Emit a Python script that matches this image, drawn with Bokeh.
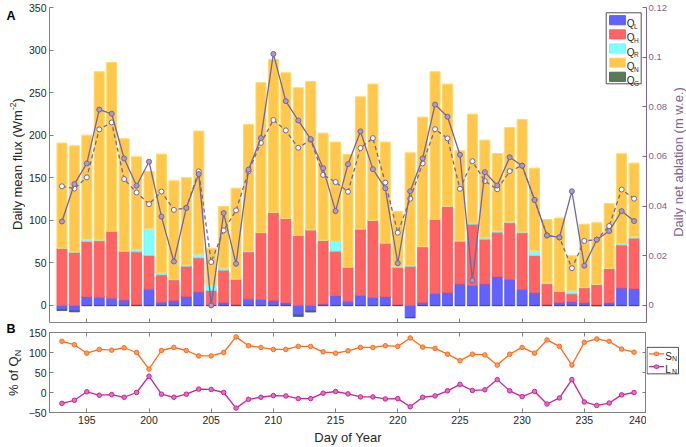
import numpy as np
from bokeh.plotting import figure
from bokeh.models import (Range1d, LinearAxis, FixedTicker, CustomJSTickFormatter,
                          BoxAnnotation, Label, Arrow, ColumnDataSource)
from bokeh.layouts import column, row
from bokeh.embed import file_html
from bokeh.resources import INLINE

# ---------------- data ----------------
days = list(range(193, 240))
QL = [-5.0, -6.5, 10.2, 9.4, 8.6, 6.3, 1.0, 19.2, 3.9, 5.9, 10.6, 15.7, 0.3, 3.5, 1.0, 7.4,
      7.0, 5.9, 3.1, -11.4, -6.7, 1.6, 11.4, 5.1, 11.7, 9.4, 10.2, 1.0, -14.1, 3.5, 14.1,
      15.3, 25.1, 23.5, 25.1, 33.7, 30.5, 18.8, 14.9, 1.0, 3.5, 4.3, 3.1, 0.5, 3.1, 20.4, 19.6]
QH = [67.3, 62.6, 65.0, 66.6, 78.4, 57.5, 62.0, 39.5, 32.1, 24.2, 35.6, 40.3, 17.3, 38.0,
      29.9, 55.6, 78.4, 103.3, 99.1, 82.2, 88.9, 74.8, 52.4, 39.9, 78.0, 90.4, 63.0, 43.6,
      46.2, 65.4, 86.9, 101.0, 50.5, 72.0, 52.8, 52.4, 66.6, 66.6, 43.8, 24.5, 12.9, 9.4,
      17.7, 24.2, 40.4, 50.5, 59.5]
QR = [0.0, 0.3, 2.3, 0.8, 0.5, 0.3, 2.8, 31.7, 2.4, 0.5, 1.2, 4.3, 5.9, 2.4, 0.3, 0.4, 0.3,
      0.3, 0.2, 0.0, 0.0, 0.3, 11.8, 0.3, 0.3, 0.3, 0.3, 1.6, 0.5, 0.3, 0.3, 0.3, 0.3, 1.5,
      1.6, 2.0, 1.0, 0.8, 5.9, 1.1, 0.5, 3.5, 0.3, 0.2, 0.2, 1.5, 1.9]
QN = [123.4, 124.6, 122.5, 197.7, 197.9, 131.7, 108.8, 67.0, 139.4, 115.8, 102.6, 144.5,
      43.8, 72.4, 106.6, 149.2, 175.9, 179.5, 170.9, 173.5, 174.2, 125.7, 116.3, 132.1,
      155.1, 159.9, 118.4, 64.2, 132.6, 152.0, 173.2, 143.4, 105.8, 127.7, 114.7, 90.4,
      111.0, 132.3, 96.7, 74.4, 85.7, 41.1, 74.4, 72.2, 76.1, 105.8, 86.2]
QG = [-1.0, -1.0, -0.3, -0.3, -0.3, -0.3, -0.3, -0.3, -0.3, -0.3, -0.3, -0.3, -0.3, -0.3,
      -0.3, -0.3, -0.3, -0.3, -0.3, -1.5, -1.0, -0.3, -0.3, -0.3, -0.3, -0.3, -0.3, -0.3,
      -0.5, -0.3, -0.3, -0.3, -0.3, -0.3, -0.3, -0.3, -0.3, -0.3, -0.3, -0.3, -0.3, -0.3,
      -0.3, -0.6, -0.3, -0.3, -0.3]
abl_obs = [0.0338, 0.0489, 0.0572, 0.0789, 0.0772, 0.0592, 0.0482, 0.0579, 0.0358, 0.0177,
           0.0393, 0.0529, 0.0000, 0.0372, 0.0168, 0.0547, 0.0674, 0.1013, 0.0823, 0.0745,
           0.0670, 0.0553, 0.0380, 0.0569, 0.0701, 0.0549, 0.0472, 0.0170, 0.0460, 0.0592,
           0.0809, 0.0760, 0.0607, 0.0101, 0.0537, 0.0483, 0.0597, 0.0563, 0.0425, 0.0282,
           0.0274, 0.0460, 0.0160, 0.0265, 0.0300, 0.0380, 0.0340]
abl_mod = [0.0480, 0.0471, 0.0516, 0.0709, 0.0737, 0.0509, 0.0455, 0.0408, 0.0459, 0.0385,
           0.0393, 0.0540, 0.0175, 0.0302, 0.0383, 0.0540, 0.0655, 0.0747, 0.0705, 0.0635,
           0.0667, 0.0526, 0.0497, 0.0458, 0.0634, 0.0674, 0.0495, 0.0293, 0.0430, 0.0572,
           0.0710, 0.0673, 0.0470, 0.0581, 0.0501, 0.0468, 0.0541, 0.0563, 0.0425, 0.0282,
           0.0274, 0.0150, 0.0260, 0.0265, 0.0320, 0.0467, 0.0430]
SN = [128, 119.5, 98.3, 107.6, 105.9, 111.9, 100, 58.5, 105, 112.7, 105, 91.5, 91.5, 100,
      139, 117, 112.7, 107.6, 107.6, 115.3, 115.3, 101.7, 98.3, 104.2, 112.7, 112.7, 117,
      115.3, 136.4, 113.6, 110.2, 95.8, 79.7, 95.8, 94, 68.6, 95.8, 112.7, 98.3, 131.4,
      115.3, 68.6, 125.4, 133.9, 128, 108.5, 100.8]
LN = [-27.1, -19.5, 1.7, -6.8, -5.1, -11.9, 0, 40.7, -4.2, -11.9, -4.2, 8.5, 7.6, 0, -39,
      -17, -11.9, -7.6, -8.5, -15.3, -15.3, -1.7, 2.5, -3.4, -11, -11, -16.1, -15.3, -35.6,
      -11.9, -8.5, 4.2, 20.3, 5.1, 6.8, 32.2, 4.2, -10.2, 2.5, -28.8, -13.6, 32.2, -23.7,
      -32.2, -26.3, -5.9, 0]
flux_ticks = [0, 50, 100, 150, 200, 250, 300, 350]
abl_ticks = [0, 0.02, 0.04, 0.06, 0.08, 0.1, 0.12]
pct_ticks = [-50, 0, 50, 100, 150]
day_ticks = [195, 200, 205, 210, 215, 220, 225, 230, 235, 240]
legend_top = ["L", "H", "R", "N", "G"]
legend_bot = ["S", "L"]

# ---------------- styles ----------------
FONT = "Liberation Sans"
TXT = "#262626"
GRAY = "#808080"
PURPLE = "#7364a5"
RAXIS = "#80648c"
C_L, E_L = "#6262ff", "#4f4fff"
C_H, E_H = "#ff6363", "#ff5555"
C_R, E_R = "#80ffff", "#66f2f2"
C_N, E_N = "#ffc84c", "#ffd966"
C_G, E_G = "#577a57", "#3f5f3f"
C_S, F_S = "#ff6b1a", "#ff9a5c"
C_LN, F_LN = "#cc2299", "#e070c2"

LSW = 25                      # left text strip width
FL, FW = 21, 597              # frame left border / frame width
TOP_T, TOP_H, TOP_B, TOP_R = 7, 315, 5, 24
BOT_T, BOT_H, BOT_B = 5, 80, 35
RSW, LGW = 19, 40
X0, X1 = 192, 240
YT0, YT1 = -20, 350
YB0, YB1 = -50, 150
ABL1 = 0.12
ABL0 = YT0 * ABL1 / YT1
TOP_FIG_H = TOP_T + TOP_H + TOP_B
BOT_FIG_H = BOT_T + BOT_H + BOT_B
PAGE_FL = LSW + FL             # page x of frame left
RS_X = LSW + FL + FW + TOP_R   # page x of right strip
LG_X = LSW + FL + FW           # page x of bottom legend strip


def tx(px):
    return X0 + (px - PAGE_FL) * (X1 - X0) / FW


def ty(py):
    return YT1 - (py - TOP_T) * (YT1 - YT0) / TOP_H


def style_axis(ax, ticks, labels=True, color=TXT, line=GRAY, size="10.5px", standoff=3):
    ax.ticker = FixedTicker(ticks=ticks)
    ax.major_tick_in = 4
    ax.major_tick_out = 0
    ax.minor_tick_line_color = None
    ax.axis_line_color = line
    ax.major_tick_line_color = line
    ax.major_label_text_font = FONT
    if labels:
        ax.major_label_text_color = color
        ax.major_label_text_font_size = size
        ax.major_label_standoff = standoff
    else:
        ax.major_label_text_color = None
        ax.major_label_text_font_size = "0px"
        ax.major_label_standoff = 0


def strip(w, h):
    # bottom-up pixel coordinates: (0, 0) is the lower left corner of the strip
    f = figure(width=w, height=h, x_range=Range1d(0, w), y_range=Range1d(0, h),
               output_backend="svg", toolbar_location=None, title=None,
               min_border_left=0, min_border_right=0, min_border_top=0,
               min_border_bottom=0, x_axis_type=None, y_axis_type=None,
               outline_line_color=None)
    f.grid.visible = False
    return f


def vlabel(fig, x, y, text, size, color=TXT):
    # vertical text reading bottom-to-top, starting at y, centred on x
    fig.add_layout(Label(x=x, y=y, text=text, angle=np.pi / 2, text_font=FONT,
                         text_font_size=size, text_color=color,
                         text_align="left", text_baseline="middle"))


# ---------------- top panel ----------------
ql = np.array(QL)
qh = np.array(QH)
qr = np.array(QR)
qn = np.array(QN)
qg = np.array(QG)
pos0 = np.maximum(ql, 0)
h_top = pos0 + qh
r_top = h_top + qr
n_top = r_top + qn
neg0 = np.minimum(ql, 0)
src = ColumnDataSource(dict(day=days, l_top=ql, h_bot=pos0, h_top=h_top, r_top=r_top,
                            n_top=n_top, g_bot=neg0, g_top=neg0 + qg,
                            zero=np.zeros(len(days)), obs=abl_obs, mod=abl_mod))

top = figure(frame_width=FW, frame_height=TOP_H, x_range=Range1d(X0, X1),
             y_range=Range1d(YT0, YT1), output_backend="svg", toolbar_location=None,
             title=None, min_border_left=FL, min_border_right=TOP_R,
             min_border_top=TOP_T, min_border_bottom=TOP_B, outline_line_color=None)
top.grid.visible = False
top.extra_y_ranges = {"abl": Range1d(ABL0, ABL1)}
style_axis(top.xaxis[0], day_ticks, labels=False)
style_axis(top.yaxis[0], flux_ticks)

rax = LinearAxis(y_range_name="abl")
style_axis(rax, abl_ticks, color=RAXIS, line=RAXIS, size="9.5px", standoff=2)
rax.formatter = CustomJSTickFormatter(code="return String(Math.round(tick*100)/100);")
top.add_layout(rax, "right")

W = 0.8
top.vbar(x="day", width=W, bottom="zero", top="l_top", source=src,
         fill_color=C_L, line_color=E_L, line_width=0.8)
top.vbar(x="day", width=W, bottom="h_bot", top="h_top", source=src,
         fill_color=C_H, line_color=E_H, line_width=0.8)
top.vbar(x="day", width=W, bottom="h_top", top="r_top", source=src,
         fill_color=C_R, line_color=E_R, line_width=0.8)
top.vbar(x="day", width=W, bottom="r_top", top="n_top", source=src,
         fill_color=C_N, line_color=E_N, line_width=1)
top.vbar(x="day", width=W, bottom="g_bot", top="g_top", source=src,
         fill_color=C_G, line_color=E_G, line_width=0.8)

top.line("day", "mod", source=src, y_range_name="abl", line_color=PURPLE,
         line_width=1.3, line_dash="4 3")
top.scatter("day", "mod", source=src, y_range_name="abl", marker="circle", size=5,
            line_color=PURPLE, fill_color="white", line_width=1)
top.line("day", "obs", source=src, y_range_name="abl", line_color=PURPLE, line_width=1.3)
top.scatter("day", "obs", source=src, y_range_name="abl", marker="circle", size=5,
            line_color=PURPLE, fill_color="#a89cca", line_width=1)

# legend (inside the top frame)
top.add_layout(BoxAnnotation(left=tx(602.7), right=tx(637.7), top=ty(12.3), bottom=ty(83.3),
                             fill_color="white", fill_alpha=1, line_color=TXT,
                             line_width=0.8, line_alpha=1))
for i, (sub, fc, ec) in enumerate(zip(legend_top, [C_L, C_H, C_R, C_N, C_G],
                                      [E_L, E_H, E_R, E_N, E_G])):
    cy = 19.7 + i * 14.15
    top.add_layout(BoxAnnotation(left=tx(606), right=tx(622), top=ty(cy - 4.6),
                                 bottom=ty(cy + 4.6), fill_color=fc, fill_alpha=1,
                                 line_color=ec, line_width=0.8, line_alpha=1))
    top.add_layout(Label(x=tx(623.3), y=ty(cy + 3.6), text="Q", text_font=FONT,
                         text_font_size="10px", text_color=TXT,
                         text_baseline="alphabetic"))
    top.add_layout(Label(x=tx(630.6), y=ty(cy + 6.4), text=sub, text_font=FONT,
                         text_font_size="6.5px", text_color=TXT,
                         text_baseline="alphabetic"))

# ---------------- bottom panel ----------------
bsrc = ColumnDataSource(dict(day=days, sn=SN, ln=LN))
bot = figure(frame_width=FW, frame_height=BOT_H, x_range=Range1d(X0, X1),
             y_range=Range1d(YB0, YB1), output_backend="svg", toolbar_location=None,
             title=None, min_border_left=FL, min_border_right=0, min_border_top=BOT_T,
             min_border_bottom=BOT_B, outline_line_color=GRAY)
bot.grid.visible = False
style_axis(bot.xaxis[0], day_ticks)
bot.xaxis[0].axis_label = "Day of Year"
bot.xaxis[0].axis_label_standoff = 3
bot.xaxis[0].axis_label_text_font = FONT
bot.xaxis[0].axis_label_text_font_size = "13px"
bot.xaxis[0].axis_label_text_font_style = "normal"
bot.xaxis[0].axis_label_text_color = TXT
style_axis(bot.yaxis[0], pct_ticks)
ax_top = LinearAxis()
style_axis(ax_top, day_ticks, labels=False)
bot.add_layout(ax_top, "above")
ax_right = LinearAxis()
style_axis(ax_right, pct_ticks, labels=False)
bot.add_layout(ax_right, "right")

bot.line("day", "sn", source=bsrc, line_color=C_S, line_width=1.3)
bot.scatter("day", "sn", source=bsrc, marker="circle", size=4.5, line_color=C_S,
            fill_color=F_S, line_width=1)
bot.line("day", "ln", source=bsrc, line_color=C_LN, line_width=1.3)
bot.scatter("day", "ln", source=bsrc, marker="circle", size=4.5, line_color=C_LN,
            fill_color=F_LN, line_width=1)

# ---------------- left text strip (panel letters, y labels) ----------------
H_ALL = TOP_FIG_H + BOT_FIG_H


def sy(page_y, h=H_ALL, y0=0):
    return h - (page_y - y0)


ls = strip(LSW, H_ALL)
ls.add_layout(Label(x=6, y=sy(8.3), text="A", text_font=FONT, text_font_size="12.5px",
                    text_font_style="bold", text_color="black", text_baseline="top"))
ls.add_layout(Label(x=6, y=sy(328.3), text="B", text_font=FONT, text_font_size="12.5px",
                    text_font_style="bold", text_color="black", text_baseline="alphabetic"))
vlabel(ls, 17.3, sy(229.5), "Daily mean flux (Wm", "13px")
vlabel(ls, 12.8, sy(109.6), "-2", "8.5px")
vlabel(ls, 17.3, sy(102.0), ")", "13px")
vlabel(ls, 13.3, sy(395.5), "% of Q", "13px")
vlabel(ls, 17.8, sy(355.8), "N", "9px")

# ---------------- right text strip (right axis label) ----------------
rs = strip(RSW, TOP_FIG_H)
vlabel(rs, 675.4 - RS_X, sy(238, TOP_FIG_H), "Daily net ablation (m w.e.)", "13px",
       color=RAXIS)

# ---------------- bottom legend ----------------
lg = strip(LGW, BOT_FIG_H)
LY = TOP_FIG_H


def ly(page_y):
    return sy(page_y, BOT_FIG_H, LY)


lg.add_layout(BoxAnnotation(left=0.5, right=675 - LG_X, top=ly(349.3), bottom=ly(389),
                            fill_color="white", fill_alpha=1, line_color=TXT,
                            line_width=0.8, line_alpha=1))
for i, (lab, lc, fc) in enumerate(zip(legend_bot, [C_S, C_LN], [F_S, F_LN])):
    cy = 359 + i * 19.3
    lg.add_layout(Arrow(end=None, x_start=2.5, x_end=17.5, y_start=ly(cy), y_end=ly(cy),
                        line_color=lc, line_width=1.3))
    lg.add_layout(BoxAnnotation(left=7.5, right=12.5, top=ly(cy - 2.5), bottom=ly(cy + 2.5),
                                border_radius=3, fill_color=fc, fill_alpha=1,
                                line_color=lc, line_width=1, line_alpha=1))
    lg.add_layout(Label(x=18.7, y=ly(cy + 3.6), text=lab, text_font=FONT,
                        text_font_size="10px", text_color=TXT, text_baseline="alphabetic"))
    lg.add_layout(Label(x=25.4, y=ly(cy + 6.5), text="N", text_font=FONT,
                        text_font_size="7px", text_color=TXT, text_baseline="alphabetic"))

layout = row(ls, column(row(top, rs), row(bot, lg)))
open("out.html", "w").write(file_html(layout, INLINE))
